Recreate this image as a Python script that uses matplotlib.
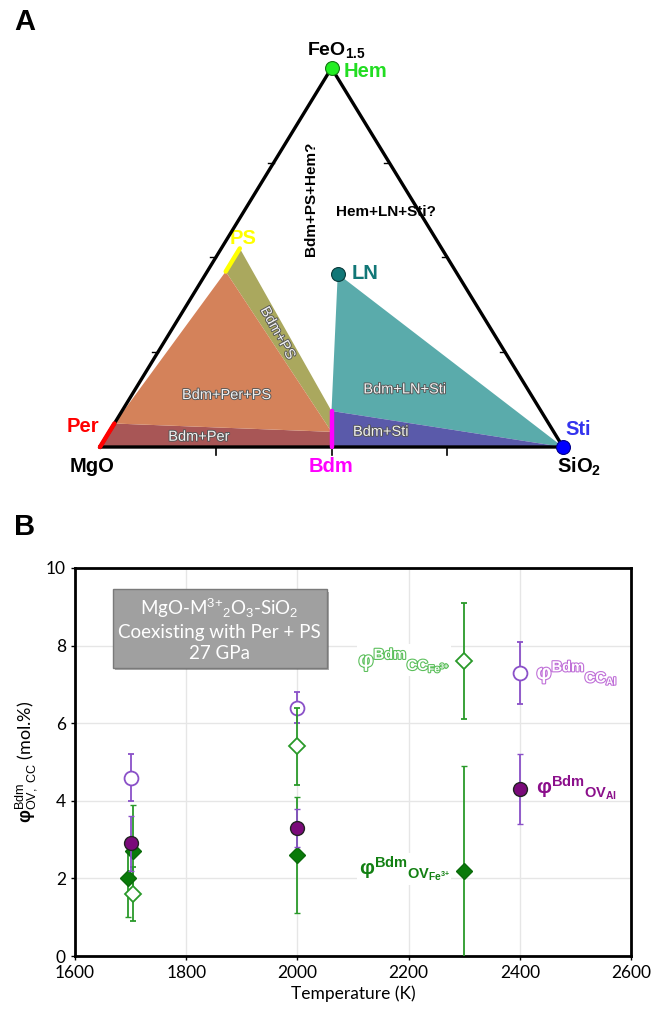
import numpy as np
import matplotlib
matplotlib.use("Agg")
import matplotlib.pyplot as plt
import matplotlib.patheffects as pe
from matplotlib.patches import Polygon

plt.rcParams['font.family'] = ['Liberation Sans', 'DejaVu Sans']
plt.rcParams['mathtext.fontset'] = 'custom'
plt.rcParams['mathtext.rm'] = 'Liberation Sans'
plt.rcParams['mathtext.bf'] = 'Liberation Sans:bold'
plt.rcParams['mathtext.it'] = 'Liberation Sans:italic'

# ---------------- Panel A data: compositions (MgO, FeO1.5, SiO2) ----------------
per_seg = [(1.00, 0.00, 0.00), (0.938, 0.062, 0.00)]
ps_seg = [(0.497, 0.463, 0.040), (0.436, 0.524, 0.040)]
bdm_seg = [(0.50, 0.00, 0.50), (0.4525, 0.095, 0.4525)]
bdm_low = (0.48, 0.04, 0.48)
hem_pt = (0.0, 1.0, 0.0)
sti_pt = (0.0, 0.0, 1.0)
ln_pt = (0.258, 0.457, 0.285)
mgo_pt = (1.0, 0.0, 0.0)

def tern(c):
    mg, fe, si = c
    return si + fe / 2.0, fe

# ---------------- Panel B data ----------------
T_cc_al = [1700, 2000, 2400]
cc_al = [4.6, 6.4, 7.3]
cc_al_err = [0.6, 0.4, 0.8]

T_ov_al = [1700, 2000, 2400]
ov_al = [2.9, 3.3, 4.3]
ov_al_err = [0.7, 0.5, 0.9]

T_cc_fe = [1705, 2000, 2300]
cc_fe = [1.6, 5.4, 7.6]
cc_fe_err = [0.7, 1.0, 1.5]

T_ov_fe = [1695, 1705, 2000, 2300]
ov_fe = [2.0, 2.7, 2.6, 2.2]
ov_fe_err = [1.0, 1.2, 1.5, 2.7]

xticks = [1600, 1800, 2000, 2200, 2400, 2600]
yticks = [0, 2, 4, 6, 8, 10]

fig = plt.figure(figsize=(6.51, 10.13), dpi=100)

# ================= Panel A =================
axA = fig.add_axes([0, (1013 - 480) / 1013, 1, 480 / 1013])
axA.set_xlim(-100 / 463, (651 - 100) / 463)
axA.set_ylim(-33 / 379, (480 - 33) / 379)
axA.axis('off')

def P(*cs):
    return [tern(c) for c in cs]

# Regions
axA.add_patch(Polygon(P(mgo_pt, per_seg[1], bdm_low, bdm_seg[0]), closed=True,
                      fc='#a85656', ec='none', zorder=2))
axA.add_patch(Polygon(P(ps_seg[0], ps_seg[1], bdm_seg[1], bdm_low), closed=True,
                      fc='#aaa85e', ec='none', zorder=1))
axA.add_patch(Polygon(P(per_seg[1], ps_seg[0], bdm_low), closed=True,
                      fc='#d4825a', ec='none', zorder=2))
axA.add_patch(Polygon(P(bdm_seg[0], bdm_seg[1], sti_pt), closed=True,
                      fc='#5a5aaa', ec='none', zorder=2))
axA.add_patch(Polygon(P(ln_pt, bdm_seg[1], sti_pt), closed=True,
                      fc='#5aabab', ec='none', zorder=1))

# Triangle outline
tri = P(mgo_pt, hem_pt, sti_pt, mgo_pt)
axA.plot([p[0] for p in tri], [p[1] for p in tri], color='black', lw=2.4,
         zorder=4, solid_joinstyle='miter')

# Ticks on triangle sides
for f in [0.25, 0.5, 0.75]:
    axA.plot([f, f], [0, -0.022], color='black', lw=1.2, zorder=4)
    lx, ly = tern((1 - f, f, 0))
    axA.plot([lx, lx - 0.012], [ly, ly], color='black', lw=1.0, zorder=4)
    rx, ry = tern((0, f, 1 - f))
    axA.plot([rx, rx - 0.012], [ry, ry], color='black', lw=1.0, zorder=4)

# Phase lines and points
for seg, col in [(per_seg, '#ff0000'), (ps_seg, '#ffff00'), (bdm_seg, '#ff00ff')]:
    pts = P(*seg)
    axA.plot([p[0] for p in pts], [p[1] for p in pts], color=col, lw=3.2,
             solid_capstyle='round', zorder=5)
hx, hy = tern(hem_pt)
axA.plot(hx, hy, 'o', ms=10, mfc='#22ee22', mec='#117711', mew=0.8, zorder=6)
sx, sy = tern(sti_pt)
axA.plot(sx, sy, 'o', ms=10, mfc='#0000ff', mec='#000088', mew=0.8, zorder=6)
nx, ny = tern(ln_pt)
axA.plot(nx, ny, 'o', ms=10, mfc='#117777', mec='#0a3a3a', mew=0.8, zorder=6)

# Labels
fig.text(0.022, 0.978, 'A', fontsize=21, fontweight='bold', va='center', ha='left')
axA.text(0.51, 1.047, r'FeO$_{\mathbf{1.5}}$', fontsize=14, fontweight='bold',
         ha='center', va='center')
axA.text(0.527, 0.99, 'Hem', color='#22dd22', fontsize=14.5, fontweight='bold',
         ha='left', va='center')
axA.text(0.28, 0.55, 'PS', color='#ffff00', fontsize=14.5, fontweight='bold',
         ha='left', va='center')
axA.text(0.543, 0.459, 'LN', color='#117777', fontsize=14.5, fontweight='bold',
         ha='left', va='center')
axA.text(-0.001, 0.055, 'Per', color='#ff0000', fontsize=14.5, fontweight='bold',
         ha='right', va='center')
axA.text(1.005, 0.047, 'Sti', color='#3333ee', fontsize=14.5, fontweight='bold',
         ha='left', va='center')
axA.text(-0.018, -0.052, 'MgO', fontsize=14.5, fontweight='bold', ha='center', va='center')
axA.text(0.5, -0.052, 'Bdm', color='#ff00ff', fontsize=14.5, fontweight='bold',
         ha='center', va='center')
axA.text(1.035, -0.052, r'SiO$_{\mathbf{2}}$', fontsize=14.5, fontweight='bold',
         ha='center', va='center')
axA.text(0.456, 0.655, 'Bdm+PS+Hem?', fontsize=11, fontweight='bold', rotation=90,
         ha='center', va='center')
axA.text(0.617, 0.62, 'Hem+LN+Sti?', fontsize=11, fontweight='bold',
         ha='center', va='center')

reg_fx = [pe.withStroke(linewidth=1.3, foreground='#555555')]
for txt, x, y, rot in [('Bdm+Per+PS', 0.274, 0.137, 0),
                       ('Bdm+Per', 0.214, 0.027, 0),
                       ('Bdm+PS', 0.384, 0.30, -61),
                       ('Bdm+LN+Sti', 0.659, 0.152, 0),
                       ('Bdm+Sti', 0.607, 0.040, 0)]:
    axA.text(x, y, txt, fontsize=10.5, color='#f0f0f0', rotation=rot,
             ha='center', va='center', path_effects=reg_fx, zorder=7)

# ================= Panel B =================
axB = fig.add_axes([75 / 651, (1013 - 956) / 1013, 556 / 651, 388 / 1013])
axB.set_xlim(1600, 2600)
axB.set_ylim(0, 10)
axB.set_xticks(xticks)
axB.set_yticks(yticks)
axB.grid(True, color='#e6e6e6', lw=1.0)
axB.set_axisbelow(True)
for s in axB.spines.values():
    s.set_linewidth(2.0)
    s.set_color('black')
axB.tick_params(labelsize=12.5, length=3, width=1, colors='black')
for lab in axB.get_xticklabels() + axB.get_yticklabels():
    lab.set_fontfamily(['Lato', 'DejaVu Sans'])
axB.set_xlabel('Temperature (K)', fontsize=12.5, family=['Lato', 'DejaVu Sans'], labelpad=3)
axB.set_ylabel(r'$\mathbf{φ}^{\mathrm{Bdm}}_{\mathrm{OV,\ CC}}$ (mol.%)', fontsize=13,
               family=['Lato', 'DejaVu Sans'], labelpad=5)

green_l = '#2a9a2a'
purple_l = '#8a50c8'
axB.errorbar(T_cc_al, cc_al, yerr=cc_al_err, fmt='o', ms=10, mfc='white', mec=purple_l,
             mew=1.3, ecolor=purple_l, elinewidth=1.3, capsize=2.5, capthick=1.2, zorder=3)
axB.errorbar(T_ov_fe, ov_fe, yerr=ov_fe_err, fmt='D', ms=8, mfc='#0a7a0a', mec='#0a6a0a',
             mew=1.0, ecolor=green_l, elinewidth=1.3, capsize=2.5, capthick=1.2, zorder=4)
axB.errorbar(T_cc_fe, cc_fe, yerr=cc_fe_err, fmt='D', ms=8, mfc='white', mec=green_l,
             mew=1.3, ecolor=green_l, elinewidth=1.3, capsize=2.5, capthick=1.2, zorder=4)
axB.errorbar(T_ov_al, ov_al, yerr=ov_al_err, fmt='o', ms=10, mfc='#7a0a7a', mec='#222222',
             mew=1.0, ecolor=purple_l, elinewidth=1.3, capsize=2.5, capthick=1.2, zorder=5)

# Info box
t = axB.text(1860, 8.42, 'MgO-M$^{3{+}}$$_{2}$O$_{3}$-SiO$_{2}$\nCoexisting with Per + PS\n27 GPa',
             fontsize=13.5, color='white', ha='center', va='center', linespacing=1.3,
             family=['Lato', 'DejaVu Sans'], zorder=6,
             bbox=dict(boxstyle='square,pad=0.3', fc='#a0a0a0', ec='#7a7a7a', lw=1.0))
t.get_bbox_patch().set_path_effects([pe.SimplePatchShadow(offset=(2, -2), alpha=0.4),
                                      pe.Normal()])

# Series annotations
hollow_g = [pe.withStroke(linewidth=1.6, foreground='#5cbf5c')]
hollow_p = [pe.withStroke(linewidth=1.6, foreground='#c070d8')]
axB.text(2110, 7.62, r'$\mathbf{φ}^{\mathbf{Bdm}}{}_{\mathbf{CC}_{\mathbf{Fe}^{\mathbf{3{+}}}}}$',
         fontsize=15, color='white', ha='left', va='center', path_effects=hollow_g,
         zorder=6, bbox=dict(fc='white', ec='none', pad=1))
axB.text(2430, 7.3, r'$\mathbf{φ}^{\mathbf{Bdm}}{}_{\mathbf{CC}_{\mathbf{Al}}}$',
         fontsize=15, color='white', ha='left', va='center', path_effects=hollow_p, zorder=6)
axB.text(2430, 4.35, r'$\mathbf{φ}^{\mathbf{Bdm}}{}_{\mathbf{OV}_{\mathbf{Al}}}$',
         fontsize=15, color='#8b0f8b', ha='left', va='center', zorder=6)
axB.text(2110, 2.25, r'$\mathbf{φ}^{\mathbf{Bdm}}{}_{\mathbf{OV}_{\mathbf{Fe}^{\mathbf{3{+}}}}}$',
         fontsize=15, color='#138013', ha='left', va='center', zorder=6,
         bbox=dict(fc='white', ec='none', pad=1))

fig.text(0.022, 1 - 527 / 1013, 'B', fontsize=21, fontweight='bold', va='center', ha='left')

fig.savefig('out.png', dpi=100)
